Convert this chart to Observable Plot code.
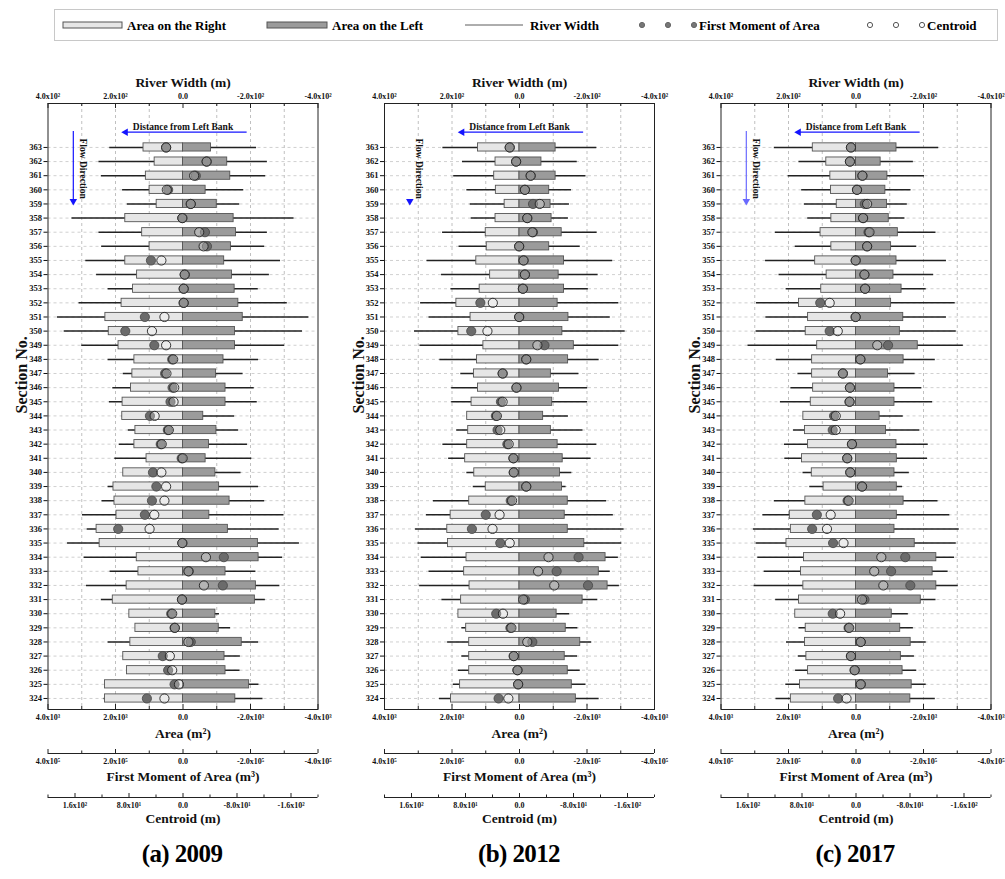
<!DOCTYPE html>
<html><head><meta charset="utf-8">
<script src="https://cdn.jsdelivr.net/npm/d3@7"></script>
<script src="https://cdn.jsdelivr.net/npm/@observablehq/plot@0.6"></script>
<style>
body{margin:0;background:#fff;font-family:"Liberation Serif",serif;}
#wrap{position:relative;width:1005px;height:879px;overflow:hidden;background:#fff;}
.panel{position:absolute;top:58px;}
.cap{position:absolute;top:840px;font-weight:bold;font-size:25px;transform:translateX(-50%);white-space:nowrap;font-family:"Liberation Serif",serif;letter-spacing:-0.6px}
</style></head><body><div id="wrap"></div>
<script>
// ---------------- DATA ----------------
const sections = d3.range(363, 323, -1); // 363 ... 324
const years = ["2009", "2012", "2017"];
const captions = ["(a) 2009", "(b) 2012", "(c) 2017"];

// River width extent (m): to the right bank (plotted left) and to the left bank (plotted right)
const widthRight2009 = [217,249,242,179,165,329,249,241,288,256,222,308,372,352,300,222,177,208,218,180,162,189,202,177,222,240,298,284,342,293,216,286,242,159,141,222,177,166,231,234];
const widthLeft2009  = [218,250,245,180,168,329,250,242,289,256,223,309,373,354,301,224,178,211,220,153,165,191,204,172,224,242,299,285,345,295,216,287,244,108,141,224,170,169,225,237];
const areaRight2009  = [1170,840,1100,990,780,1710,1210,990,1710,1360,1480,1820,2300,2200,1910,1440,1500,1540,1790,1800,1410,1440,1080,1770,2060,2030,1970,2560,2470,1370,1320,1670,2080,1590,1410,1560,1770,1660,2310,2310];
const areaLeft2009   = [830,1310,1400,670,1000,1500,1570,1420,1220,1450,1530,1640,1770,1540,1540,1200,980,1260,1260,600,990,770,670,960,1070,1380,780,1330,2220,2240,1260,2160,2130,960,1060,1740,1230,1260,1960,1550];
const moment2009     = [50000,-70000,-38000,44000,-23000,2000,-65000,-71000,95000,-5000,-2000,-2000,113000,171000,85000,32000,53000,31000,37000,98000,45000,66000,4000,89000,79000,92000,113000,192000,2000,-121000,-17000,-118000,3000,35000,25000,-23000,60000,44000,25000,107000];
const centroid2009   = [25,-35,-16.5,24,-11.5,1,-24,-30.5,32,-2.5,-1,-1,27.5,46,25,14.5,24.5,13,14,42,21,31.5,0.5,32,25,27.5,42.5,49.5,1,-34,-8,-31,1.5,16,12,-8,19.5,16,6,27.5];

const widthRight2012 = [227,169,195,156,146,143,228,179,274,231,203,293,268,311,295,236,174,201,201,155,186,227,210,156,137,255,276,308,301,291,268,296,230,181,171,213,171,181,196,237];
const widthLeft2012  = [229,171,197,154,148,145,230,180,276,233,204,294,269,313,294,236,176,202,202,145,188,229,212,155,138,258,278,310,303,293,269,296,232,149,173,214,172,180,197,236];
const areaRight2012  = [1230,710,750,700,440,710,1000,970,1280,870,1180,1870,1450,1810,1070,1260,1350,1230,1420,1550,1520,1550,1610,1340,1000,1490,2040,2140,2120,1570,1640,1480,1730,1810,1580,1490,1490,1490,1760,2030];
const areaLeft2012   = [1070,650,1070,880,920,950,1250,880,1320,1160,1320,1130,1450,1270,1610,1440,930,1170,970,700,930,1130,1280,1200,1260,1430,1340,1430,1920,2550,2350,2610,1870,1100,1370,1800,1340,1430,1550,1670];
const moment2012     = [29000,10000,-33000,-16000,-40000,-23000,-40000,1000,-12000,-16000,-10000,116000,1000,143000,-74000,-20000,50000,9000,55000,70000,65000,36000,18000,17000,-20000,26000,100000,141000,57000,-175000,-110000,-203000,-16000,69000,27000,-38000,17000,6000,4000,62000];
const centroid2012   = [14.5,5,-16.5,-8,-30,-11.5,-19,0.5,-6,-8,-5,39.5,0.5,47.5,-26.5,-10,25,4.5,25,33.5,28.5,16,9,8.5,-10,11,29.5,40,14.5,-43,-27.5,-51.5,-5.5,24.5,12,-11.5,8.5,3,2,16.5];

const widthRight2017 = [242,169,201,161,153,143,239,180,268,228,207,295,267,296,320,236,172,193,224,156,185,212,211,157,137,242,276,304,296,291,272,302,238,180,169,206,171,179,208,237];
const widthLeft2017  = [245,170,203,163,152,145,237,180,268,230,208,294,268,297,318,235,175,195,227,140,189,214,212,158,138,243,278,306,297,292,273,303,237,155,170,208,173,180,208,235];
const areaRight2017  = [1280,880,760,740,570,730,1050,730,1210,870,1030,1690,1420,1490,1150,1300,1300,1270,1340,1560,1510,1420,1600,1310,960,1500,1960,1930,2060,1540,1630,1560,1690,1800,1490,1510,1470,1420,1660,1930];
const areaLeft2017   = [1200,730,930,870,920,970,1240,1040,1200,1110,1350,1040,1400,1300,1830,1410,950,1140,1140,700,890,1200,1210,1140,1210,1410,1210,1140,1740,2380,2270,2380,1920,1060,1310,1620,1330,1380,1650,1610];
const moment2017     = [15000,18000,-19000,-3000,-26000,-21000,-37000,-33000,1000,-25000,-27000,106000,1000,78000,-95000,-13000,39000,18000,19000,65000,69000,12000,26000,17000,-18000,25000,116000,130000,68000,-146000,-104000,-161000,-25000,69000,22000,-14000,15000,4000,-14000,53000];
const centroid2017   = [7.5,9,-9.5,-1.5,-16.5,-10.5,-20,-16.5,0.5,-12.5,-13.5,39,0.5,27,-31.5,-6.5,19.5,9,9.5,30,30,6,13,8.5,-9,11,37.5,43,18.5,-37.5,-27,-40.5,-9,23.5,10,-7,7.5,2,-7,14];

// axis ticks (river-width units; the other axes share the same pixel mapping)
const widthTicks = [400, 200, 0, -200, -400];
const widthMinor = [300, 100, -100, -300];
const centroidTicks = [160, 80, 0, -80, -160];
const centroidMinor = [200, 120, 40, -40, -120, -200];

// ---------------- HELPERS ----------------
const SUP = "⁰¹²³⁴⁵⁶⁷⁸⁹";
function fmt(v) {
  if (Math.abs(v) < 1e-9) return "0.0";
  const s = v < 0 ? "-" : "";
  const a = Math.abs(v);
  let e = Math.floor(Math.log10(a) + 1e-9);
  const m = a / Math.pow(10, e);
  return s + m.toFixed(1) + "x10" + String(e).split("").map(c => SUP[+c]).join("");
}

const datasets = [
  {wR: widthRight2009, wL: widthLeft2009, aR: areaRight2009, aL: areaLeft2009, m: moment2009, c: centroid2009},
  {wR: widthRight2012, wL: widthLeft2012, aR: areaRight2012, aL: areaLeft2012, m: moment2012, c: centroid2012},
  {wR: widthRight2017, wL: widthLeft2017, aR: areaRight2017, aL: areaLeft2017, m: moment2017, c: centroid2017}
];

// layout config
const yDom = [323.22, 366.11];
const layout = [
  {left: 0,   ml: 47.5, mr: 17.5, center: 182, flowLine: true,  flowColor: "#1414ff"},
  {left: 335, ml: 49,   mr: 16,   center: 519, flowLine: false, flowColor: "#1414ff"},
  {left: 670, ml: 50.5, mr: 14.5, center: 855, flowLine: true,  flowColor: "#6a6aff"}
];
const ann = {distX1: -190, distX2: 170, distY: 364.08, flowX: 325, flowY1: 364.13, flowY2: 359.2, flowTextX: 297, flowTextY: 361.5};

const wrap = document.getElementById("wrap");

// ---------------- LEGEND ----------------
(function legend() {
  const svg = d3.select(wrap).append("svg").attr("width", 1005).attr("height", 45)
    .style("position", "absolute").style("left", "0px").style("top", "0px")
    .style("font-family", '"Liberation Serif", serif').style("font-weight", "bold").style("font-size", "13px");
  svg.append("rect").attr("x", 54.5).attr("y", 9.5).attr("width", 943).attr("height", 31).attr("fill", "none").attr("stroke", "#c8c8c8");
  const cy = 25;
  svg.append("rect").attr("x", 63).attr("y", cy - 3).attr("width", 59).attr("height", 6).attr("fill", "#e6e6e6").attr("stroke", "#555");
  svg.append("text").attr("x", 127).attr("y", cy + 4.5).text("Area on the Right");
  svg.append("rect").attr("x", 267).attr("y", cy - 3).attr("width", 60).attr("height", 6).attr("fill", "#9b9b9b").attr("stroke", "#555");
  svg.append("text").attr("x", 332).attr("y", cy + 4.5).text("Area on the Left");
  svg.append("line").attr("x1", 465).attr("x2", 523).attr("y1", cy).attr("y2", cy).attr("stroke", "#333").attr("stroke-width", 0.8);
  svg.append("text").attr("x", 530).attr("y", cy + 4.5).text("River Width");
  [642, 668, 694].forEach(x => svg.append("circle").attr("cx", x).attr("cy", cy).attr("r", 2.6).attr("fill", "#777").attr("stroke", "#666"));
  svg.append("text").attr("x", 699).attr("y", cy + 4.5).text("First Moment of Area");
  [870, 896, 922].forEach(x => svg.append("circle").attr("cx", x).attr("cy", cy).attr("r", 2.6).attr("fill", "white").attr("stroke", "#555"));
  svg.append("text").attr("x", 927).attr("y", cy + 4.5).text("Centroid");
})();

// ---------------- PANELS ----------------
datasets.forEach((data, k) => {
  const L = layout[k];
  const rows = sections.map((s, i) => ({s, wR: data.wR[i], wL: data.wL[i], aR: data.aR[i], aL: data.aL[i], m: data.m[i], c: data.c[i]}));
  const top = yDom[1], bot = yDom[0];
  const ax = {fontSize: 8, label: null, tickSize: 0, tickPadding: 5};
  const marks = [
    Plot.ruleX([300, 200, 100, -100, -200, -300], {stroke: "#b0b0b0", strokeDasharray: "3,3", strokeWidth: 0.8}),
    Plot.ruleY(sections, {stroke: "#c4c4c4", strokeDasharray: "3,3", strokeWidth: 0.8}),
    // river width whiskers
    Plot.ruleY(rows, {y: "s", x1: "wR", x2: d => -d.wL, stroke: "#222", strokeWidth: 1.5}),
    // area bars (m² -> width units /10)
    Plot.rect(rows, {x1: 0, x2: d => d.aR / 10, y1: d => d.s - 0.29, y2: d => d.s + 0.29, fill: "#e6e6e6", stroke: "#555", strokeWidth: 0.9}),
    Plot.rect(rows, {x1: 0, x2: d => -d.aL / 10, y1: d => d.s - 0.29, y2: d => d.s + 0.29, fill: "#9b9b9b", stroke: "#555", strokeWidth: 0.9}),
    // first moment (m³ -> /1000) and centroid (m -> x2)
    Plot.dot(rows, {x: d => d.m / 1000, y: "s", r: 4.6, fill: "#6b6b6b", stroke: "#444", strokeWidth: 0.8}),
    Plot.dot(rows, {x: d => d.c * 2, y: "s", r: 4.6, fill: "#fff", fillOpacity: 0.25, stroke: "#222", strokeWidth: 0.9}),
    Plot.frame({stroke: "#222", strokeWidth: 1}),
    // top axis: river width
    Plot.axisX({anchor: "top", ticks: widthTicks, tickFormat: fmt, ...ax}),
    Plot.ruleX(widthTicks, {y1: top, y2: top, insetBottom: -5, stroke: "#222"}),
    Plot.ruleX(widthMinor, {y1: top, y2: top, insetBottom: -3, stroke: "#222"}),
    Plot.text(["River Width (m)"], {frameAnchor: "top", dy: -26, fontSize: 13.5, fontWeight: "bold"}),
    // bottom axis: area
    Plot.axisX({anchor: "bottom", ticks: widthTicks, tickFormat: d => fmt(d * 10), ...ax}),
    Plot.ruleX(widthTicks, {y1: bot, y2: bot, insetTop: -5, stroke: "#222"}),
    Plot.ruleX(widthMinor, {y1: bot, y2: bot, insetTop: -3, stroke: "#222"}),
    Plot.text(["Area (m²)"], {frameAnchor: "bottom", dy: 28, fontSize: 13.5, fontWeight: "bold"}),
    // first moment axis
    Plot.ruleY([bot], {dy: 44, stroke: "#222"}),
    Plot.ruleX(widthTicks, {y1: bot, y2: bot, insetTop: -4, dy: 44, stroke: "#222"}),
    Plot.ruleX(widthMinor, {y1: bot, y2: bot, insetTop: -2.5, dy: 44, stroke: "#222"}),
    Plot.axisX({anchor: "bottom", ticks: widthTicks, tickFormat: d => fmt(d * 1000), dy: 44, ...ax}),
    Plot.text(["First Moment of Area (m³)"], {frameAnchor: "bottom", dy: 71, fontSize: 13.5, fontWeight: "bold"}),
    // centroid axis
    Plot.ruleY([bot], {dy: 88, stroke: "#222"}),
    Plot.ruleX(centroidTicks, {x: d => d * 2, y1: bot, y2: bot, insetTop: -4, dy: 88, stroke: "#222"}),
    Plot.ruleX(centroidMinor, {x: d => d * 2, y1: bot, y2: bot, insetTop: -2.5, dy: 88, stroke: "#222"}),
    Plot.axisX({anchor: "bottom", ticks: centroidTicks.map(d => d * 2), tickFormat: d => fmt(d / 2), dy: 88, ...ax}),
    Plot.text(["Centroid (m)"], {frameAnchor: "bottom", dy: 113, fontSize: 13.5, fontWeight: "bold"}),
    // y axis
    Plot.axisY({ticks: sections, tickFormat: d => String(d), tickSize: 4, tickPadding: 2, label: null, fontSize: 8.5}),
    Plot.text(["Section No."], {frameAnchor: "left", dx: -26, dy: 7, rotate: -90, fontSize: 16, fontWeight: "bold"}),
    // annotations
    Plot.text(["Distance from Left Bank"], {frameAnchor: "top", dy: 20, fontSize: 9.5, fontWeight: "bold"}),
    Plot.ruleY([ann.distY], {x1: ann.distX1, x2: ann.distX2, stroke: "#1414ff", strokeWidth: 1.3}),
    Plot.dot([ann.distX2], {x: d => d, y: ann.distY, symbol: "triangle2", rotate: -90, r: 3.6, fill: "#1414ff", stroke: "none"}),
    Plot.text(["Flow Direction"], {x: ann.flowTextX, y: ann.flowTextY, rotate: 90, fontSize: 9.5, fontWeight: "bold"}),
    Plot.dot([ann.flowX], {x: d => d, y: ann.flowY2, symbol: "triangle2", rotate: 180, r: 3.6, fill: L.flowColor, stroke: "none"})
  ];
  if (L.flowLine) marks.push(Plot.ruleX([ann.flowX], {y1: ann.flowY1, y2: ann.flowY2, stroke: L.flowColor, strokeWidth: 1.2}));
  const chart = Plot.plot({
    width: 335, height: 772, marginTop: 45, marginBottom: 121, marginLeft: L.ml, marginRight: L.mr,
    style: {fontFamily: '"Liberation Serif", serif', fontWeight: "bold", fontSize: "8px", color: "#111", background: "transparent", overflow: "visible"},
    x: {domain: [400, -400]},
    y: {domain: yDom},
    marks
  });
  chart.classList.add("panel");
  chart.style.left = L.left + "px";
  wrap.appendChild(chart);
  const cap = document.createElement("div");
  cap.className = "cap";
  cap.style.left = L.center + "px";
  cap.textContent = captions[k];
  wrap.appendChild(cap);
});
</script>
</body></html>
